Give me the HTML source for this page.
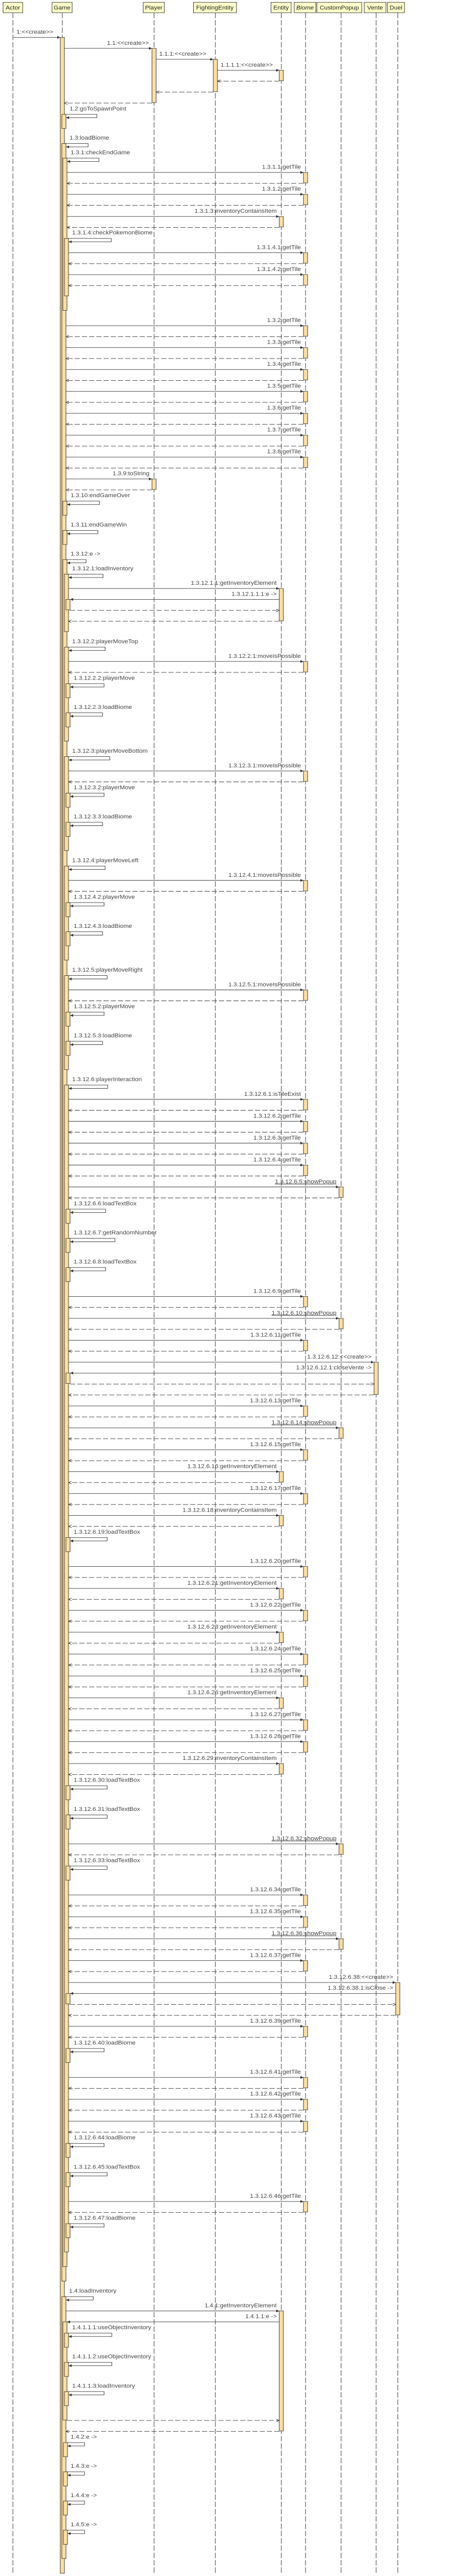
<!DOCTYPE html>
<html><head><meta charset="utf-8"><style>
html,body{margin:0;padding:0;background:#fff;width:100%;height:100%;overflow:hidden}
svg{display:block;position:fixed;left:0;top:0;width:100vw;height:100vh}
text{font-family:"Liberation Sans",sans-serif;font-size:12px;fill:#444}
.h{font-size:12px;fill:#222;text-anchor:middle}
.a{fill:#ffdf9f;stroke:#333;stroke-width:1}
line,path{stroke:#333;stroke-width:1;fill:none}
.d{stroke-dasharray:10,4}
.ll{stroke-dasharray:12,4}
.r{text-anchor:end}
.u{text-decoration:underline}
.bx{fill:#ffffc8;stroke:#333}
</style></head><body>
<svg viewBox="0 0 885 5647" preserveAspectRatio="none" xmlns="http://www.w3.org/2000/svg">
<defs>
<marker id="f" markerWidth="7" markerHeight="7" refX="6" refY="3" orient="auto" markerUnits="userSpaceOnUse"><path d="M0,0L6,3L0,6z" style="fill:#333;stroke:none"/></marker>
<marker id="o" markerWidth="7" markerHeight="7" refX="6" refY="3" orient="auto" markerUnits="userSpaceOnUse"><path d="M0,0L6,3L0,6" style="fill:none;stroke:#333"/></marker>
<g id="B1"><line x1="128" y1="0" x2="589" y2="0" marker-end="url(#f)"/><rect class="a" x="589" y="0" width="8" height="23"/><line class="d" x1="589" y1="24" x2="128" y2="24" marker-end="url(#o)"/></g>
<g id="B2"><line x1="130" y1="0" x2="589" y2="0" marker-end="url(#f)"/><rect class="a" x="589" y="0" width="8" height="23"/><line class="d" x1="589" y1="24" x2="130" y2="24" marker-end="url(#o)"/></g>
<g id="B3"><line x1="133" y1="0" x2="589" y2="0" marker-end="url(#f)"/><rect class="a" x="589" y="0" width="8" height="23"/><line class="d" x1="589" y1="24" x2="133" y2="24" marker-end="url(#o)"/></g>
<g id="E2"><line x1="130" y1="0" x2="542" y2="0" marker-end="url(#f)"/><rect class="a" x="542" y="0" width="8" height="23"/><line class="d" x1="542" y1="24" x2="130" y2="24" marker-end="url(#o)"/></g>
<g id="E3"><line x1="133" y1="0" x2="542" y2="0" marker-end="url(#f)"/><rect class="a" x="542" y="0" width="8" height="23"/><line class="d" x1="542" y1="24" x2="133" y2="24" marker-end="url(#o)"/></g>
<g id="C3"><line x1="133" y1="0" x2="658" y2="0" marker-end="url(#f)"/><rect class="a" x="658" y="0" width="8" height="23"/><line class="d" x1="658" y1="24" x2="133" y2="24" marker-end="url(#o)"/></g>
<g id="P1"><line x1="128" y1="0" x2="295" y2="0" marker-end="url(#f)"/><rect class="a" x="295" y="0" width="8" height="23"/><line class="d" x1="295" y1="24" x2="128" y2="24" marker-end="url(#o)"/></g>
</defs>

<line class="ll" x1="25" y1="28" x2="25" y2="5640"/>
<line class="ll" x1="121" y1="28" x2="121" y2="5640"/>
<line class="ll" x1="299" y1="28" x2="299" y2="5640"/>
<line class="ll" x1="418" y1="28" x2="418" y2="5640"/>
<line class="ll" x1="546" y1="28" x2="546" y2="5640"/>
<line class="ll" x1="593" y1="28" x2="593" y2="5640"/>
<line class="ll" x1="662" y1="28" x2="662" y2="5640"/>
<line class="ll" x1="730" y1="28" x2="730" y2="5640"/>
<line class="ll" x1="772" y1="28" x2="772" y2="5640"/>

<rect class="bx" x="6" y="5" width="38" height="23"/><text class="h" x="25" y="21">Actor</text>
<rect class="bx" x="101" y="5" width="39" height="23"/><text class="h" x="120.5" y="21">Game</text>
<rect class="bx" x="278" y="5" width="41" height="23"/><text class="h" x="298.5" y="21">Player</text>
<rect class="bx" x="375.5" y="5" width="83.5" height="23"/><text class="h" x="417" y="21">FightingEntity</text>
<rect class="bx" x="526" y="5" width="39" height="23"/><text class="h" x="545.5" y="21">Entity</text>
<rect class="bx" x="571" y="5" width="42" height="23"/><text class="h" x="592" y="21" font-style="italic">Biome</text>
<rect class="bx" x="615" y="5" width="87" height="23"/><text class="h" x="658.5" y="21">CustomPopup</text>
<rect class="bx" x="707" y="5" width="42" height="23"/><text class="h" x="728" y="21">Vente</text>
<rect class="bx" x="752" y="5" width="33" height="23"/><text class="h" x="768.5" y="21">Duel</text>

<rect class="a" x="117" y="82" width="8" height="5559"/>
<rect class="a" x="295" y="106" width="8" height="119"/>
<rect class="a" x="414" y="130" width="8" height="71"/>
<rect class="a" x="542" y="154" width="8" height="23"/>

<line x1="26" y1="82" x2="117" y2="82" marker-end="url(#f)"/><text x="32" y="74">1:&lt;&lt;create&gt;&gt;</text>
<line x1="125" y1="106" x2="295" y2="106" marker-end="url(#f)"/><text class="r" x="289" y="98">1.1:&lt;&lt;create&gt;&gt;</text>
<line x1="303" y1="130" x2="414" y2="130" marker-end="url(#f)"/><text x="309" y="122">1.1.1:&lt;&lt;create&gt;&gt;</text>
<line x1="422" y1="154" x2="542" y2="154" marker-end="url(#f)"/><text x="428" y="146">1.1.1.1:&lt;&lt;create&gt;&gt;</text>
<line class="d" x1="542" y1="178" x2="422" y2="178" marker-end="url(#o)"/>
<line class="d" x1="414" y1="202" x2="303" y2="202" marker-end="url(#o)"/>
<line class="d" x1="295" y1="226" x2="125" y2="226" marker-end="url(#o)"/>

<g transform="translate(0,238)"><rect class="a" x="120" y="12.6" width="8" height="31"/><path d="M125,12.6H188V20H128" marker-end="url(#f)"/><text x="135" y="4">1.2:goToSpawnPoint</text></g>
<g transform="translate(0,302)"><rect class="a" x="120" y="12.6" width="8" height="4686"/><path d="M125,12.6H171V20H128" marker-end="url(#f)"/><text x="135" y="4">1.3:loadBiome</text></g>
<g transform="translate(0,334)"><rect class="a" x="122" y="12.6" width="8" height="334"/><path d="M128,12.6H192V20H130" marker-end="url(#f)"/><text x="137" y="4">1.3.1:checkEndGame</text></g>
<use href="#B2" y="378"/><text class="r" x="584" y="370">1.3.1.1:getTile</text>
<use href="#B2" y="426"/><text class="r" x="584" y="418">1.3.1.2:getTile</text>
<use href="#E2" y="474.6"/><text class="r" x="537" y="466.6">1.3.1.3:inventoryContainsItem</text>
<g transform="translate(0,510)"><rect class="a" x="125" y="12.6" width="8" height="126"/><path d="M130,12.6H216V20H133" marker-end="url(#f)"/><text x="140" y="4">1.3.1.4:checkPokemonBiome</text></g>
<use href="#B3" y="554"/><text class="r" x="584" y="546">1.3.1.4.1:getTile</text>
<use href="#B3" y="602"/><text class="r" x="584" y="594">1.3.1.4.2:getTile</text>

<use href="#B1" y="714"/><text class="r" x="584" y="706">1.3.2:getTile</text>
<use href="#B1" y="762"/><text class="r" x="584" y="754">1.3.3:getTile</text>
<use href="#B1" y="810"/><text class="r" x="584" y="802">1.3.4:getTile</text>
<use href="#B1" y="858"/><text class="r" x="584" y="850">1.3.5:getTile</text>
<use href="#B1" y="906"/><text class="r" x="584" y="898">1.3.6:getTile</text>
<use href="#B1" y="954"/><text class="r" x="584" y="946">1.3.7:getTile</text>
<use href="#B1" y="1002"/><text class="r" x="584" y="994">1.3.8:getTile</text>
<use href="#P1" y="1050"/><text class="r" x="290" y="1042">1.3.9:toString</text>

<g transform="translate(0,1086)"><rect class="a" x="122" y="12.6" width="8" height="31"/><path d="M128,12.6H193V20H130" marker-end="url(#f)"/><text x="137" y="4">1.3.10:endGameOver</text></g>
<g transform="translate(0,1150)"><rect class="a" x="122" y="12.6" width="8" height="31"/><path d="M128,12.6H190V20H130" marker-end="url(#f)"/><text x="137" y="4">1.3.11:endGameWin</text></g>
<g transform="translate(0,1214)"><rect class="a" x="122" y="12.6" width="8" height="3742"/><path d="M128,12.6H167V20H130" marker-end="url(#f)"/><text x="137" y="4">1.3.12:e -&gt;</text></g>

<g transform="translate(0,1246)"><rect class="a" x="125" y="12.6" width="8" height="126"/><path d="M130,12.6H200V20H133" marker-end="url(#f)"/><text x="140" y="4">1.3.12.1:loadInventory</text></g>
<rect class="a" x="542" y="1290" width="8" height="71"/>
<line x1="133" y1="1290" x2="542" y2="1290" marker-end="url(#f)"/><text class="r" x="537" y="1282">1.3.12.1.1:getInventoryElement</text>
<rect class="a" x="128" y="1314" width="8" height="23"/>
<line x1="542" y1="1314" x2="136" y2="1314" marker-end="url(#f)"/><text class="r" x="537" y="1306">1.3.12.1.1.1:e -&gt;</text>
<line class="d" x1="136" y1="1338" x2="542" y2="1338" marker-end="url(#o)"/>
<line class="d" x1="542" y1="1362" x2="133" y2="1362" marker-end="url(#o)"/>

<g transform="translate(0,1406)"><rect class="a" x="125" y="12.6" width="8" height="206"/><path d="M130,12.6H204V20H133" marker-end="url(#f)"/><text x="140" y="4">1.3.12.2:playerMoveTop</text></g>
<use href="#B3" y="1450"/><text class="r" x="584" y="1442">1.3.12.2.1:moveIsPossible</text>
<g transform="translate(0,1486)"><rect class="a" x="128" y="12.6" width="8" height="31"/><path d="M133,12.6H202V20H136" marker-end="url(#f)"/><text x="143" y="4">1.3.12.2.2:playerMove</text></g>
<g transform="translate(0,1550)"><rect class="a" x="128" y="12.6" width="8" height="31"/><path d="M133,12.6H199V20H136" marker-end="url(#f)"/><text x="143" y="4">1.3.12.2.3:loadBiome</text></g>

<g transform="translate(0,1646)"><rect class="a" x="125" y="12.6" width="8" height="206"/><path d="M130,12.6H213V20H133" marker-end="url(#f)"/><text x="140" y="4">1.3.12.3:playerMoveBottom</text></g>
<use href="#B3" y="1690"/><text class="r" x="584" y="1682">1.3.12.3.1:moveIsPossible</text>
<g transform="translate(0,1726)"><rect class="a" x="128" y="12.6" width="8" height="31"/><path d="M133,12.6H202V20H136" marker-end="url(#f)"/><text x="143" y="4">1.3.12.3.2:playerMove</text></g>
<g transform="translate(0,1790)"><rect class="a" x="128" y="12.6" width="8" height="31"/><path d="M133,12.6H199V20H136" marker-end="url(#f)"/><text x="143" y="4">1.3.12.3.3:loadBiome</text></g>

<g transform="translate(0,1886)"><rect class="a" x="125" y="12.6" width="8" height="206"/><path d="M130,12.6H204V20H133" marker-end="url(#f)"/><text x="140" y="4">1.3.12.4:playerMoveLeft</text></g>
<use href="#B3" y="1930"/><text class="r" x="584" y="1922">1.3.12.4.1:moveIsPossible</text>
<g transform="translate(0,1966)"><rect class="a" x="128" y="12.6" width="8" height="31"/><path d="M133,12.6H202V20H136" marker-end="url(#f)"/><text x="143" y="4">1.3.12.4.2:playerMove</text></g>
<g transform="translate(0,2030)"><rect class="a" x="128" y="12.6" width="8" height="31"/><path d="M133,12.6H199V20H136" marker-end="url(#f)"/><text x="143" y="4">1.3.12.4.3:loadBiome</text></g>

<g transform="translate(0,2126)"><rect class="a" x="125" y="12.6" width="8" height="206"/><path d="M130,12.6H208V20H133" marker-end="url(#f)"/><text x="140" y="4">1.3.12.5:playerMoveRight</text></g>
<use href="#B3" y="2170"/><text class="r" x="584" y="2162">1.3.12.5.1:moveIsPossible</text>
<g transform="translate(0,2206)"><rect class="a" x="128" y="12.6" width="8" height="31"/><path d="M133,12.6H202V20H136" marker-end="url(#f)"/><text x="143" y="4">1.3.12.5.2:playerMove</text></g>
<g transform="translate(0,2270)"><rect class="a" x="128" y="12.6" width="8" height="31"/><path d="M133,12.6H199V20H136" marker-end="url(#f)"/><text x="143" y="4">1.3.12.5.3:loadBiome</text></g>

<g transform="translate(0,2366)"><rect class="a" x="125" y="12.6" width="8" height="2558"/><path d="M130,12.6H209V20H133" marker-end="url(#f)"/><text x="140" y="4">1.3.12.6:playerInteraction</text></g>
<use href="#B3" y="2410"/><text class="r" x="584" y="2402">1.3.12.6.1:isTileExist</text>
<use href="#B3" y="2458"/><text class="r" x="584" y="2450">1.3.12.6.2:getTile</text>
<use href="#B3" y="2506"/><text class="r" x="584" y="2498">1.3.12.6.3:getTile</text>
<use href="#B3" y="2554"/><text class="r" x="584" y="2546">1.3.12.6.4:getTile</text>
<use href="#C3" y="2602"/><text class="r u" x="653" y="2594">1.3.12.6.5:showPopup</text>
<g transform="translate(0,2638)"><rect class="a" x="128" y="12.6" width="8" height="31"/><path d="M133,12.6H205V20H136" marker-end="url(#f)"/><text x="143" y="4">1.3.12.6.6:loadTextBox</text></g>
<g transform="translate(0,2702)"><rect class="a" x="128" y="12.6" width="8" height="31"/><path d="M133,12.6H223V20H136" marker-end="url(#f)"/><text x="143" y="4">1.3.12.6.7:getRandomNumber</text></g>
<g transform="translate(0,2766)"><rect class="a" x="128" y="12.6" width="8" height="31"/><path d="M133,12.6H205V20H136" marker-end="url(#f)"/><text x="143" y="4">1.3.12.6.8:loadTextBox</text></g>
<use href="#B3" y="2842"/><text class="r" x="584" y="2834">1.3.12.6.9:getTile</text>
<use href="#C3" y="2890"/><text class="r u" x="653" y="2882">1.3.12.6.10:showPopup</text>
<use href="#B3" y="2938"/><text class="r" x="584" y="2930">1.3.12.6.11:getTile</text>
<rect class="a" x="726" y="2986" width="8" height="71"/>
<line x1="133" y1="2986" x2="726" y2="2986" marker-end="url(#f)"/><text class="r" x="721" y="2978">1.3.12.6.12:&lt;&lt;create&gt;&gt;</text>
<rect class="a" x="128" y="3010" width="8" height="23"/>
<line x1="726" y1="3010" x2="136" y2="3010" marker-end="url(#f)"/><text class="r" x="721" y="3002">1.3.12.6.12.1:closeVente -&gt;</text>
<line class="d" x1="136" y1="3034" x2="726" y2="3034" marker-end="url(#o)"/>
<line class="d" x1="726" y1="3058" x2="133" y2="3058" marker-end="url(#o)"/>
<use href="#B3" y="3082"/><text class="r" x="584" y="3074">1.3.12.6.13:getTile</text>
<use href="#C3" y="3130"/><text class="r u" x="653" y="3122">1.3.12.6.14:showPopup</text>
<use href="#B3" y="3178"/><text class="r" x="584" y="3170">1.3.12.6.15:getTile</text>
<use href="#E3" y="3226"/><text class="r" x="537" y="3218">1.3.12.6.16:getInventoryElement</text>
<use href="#B3" y="3274"/><text class="r" x="584" y="3266">1.3.12.6.17:getTile</text>
<use href="#E3" y="3322"/><text class="r" x="537" y="3314">1.3.12.6.18:inventoryContainsItem</text>
<g transform="translate(0,3358)"><rect class="a" x="128" y="12.6" width="8" height="31"/><path d="M133,12.6H208V20H136" marker-end="url(#f)"/><text x="143" y="4">1.3.12.6.19:loadTextBox</text></g>
<use href="#B3" y="3434"/><text class="r" x="584" y="3426">1.3.12.6.20:getTile</text>
<use href="#E3" y="3482"/><text class="r" x="537" y="3474">1.3.12.6.21:getInventoryElement</text>
<use href="#B3" y="3530"/><text class="r" x="584" y="3522">1.3.12.6.22:getTile</text>
<use href="#E3" y="3578"/><text class="r" x="537" y="3570">1.3.12.6.23:getInventoryElement</text>
<use href="#B3" y="3626"/><text class="r" x="584" y="3618">1.3.12.6.24:getTile</text>
<use href="#B3" y="3674"/><text class="r" x="584" y="3666">1.3.12.6.25:getTile</text>
<use href="#E3" y="3722"/><text class="r" x="537" y="3714">1.3.12.6.26:getInventoryElement</text>
<use href="#B3" y="3770"/><text class="r" x="584" y="3762">1.3.12.6.27:getTile</text>
<use href="#B3" y="3818"/><text class="r" x="584" y="3810">1.3.12.6.28:getTile</text>
<use href="#E3" y="3866"/><text class="r" x="537" y="3858">1.3.12.6.29:inventoryContainsItem</text>
<g transform="translate(0,3902)"><rect class="a" x="128" y="12.6" width="8" height="31"/><path d="M133,12.6H208V20H136" marker-end="url(#f)"/><text x="143" y="4">1.3.12.6.30:loadTextBox</text></g>
<g transform="translate(0,3966)"><rect class="a" x="128" y="12.6" width="8" height="31"/><path d="M133,12.6H208V20H136" marker-end="url(#f)"/><text x="143" y="4">1.3.12.6.31:loadTextBox</text></g>
<use href="#C3" y="4042"/><text class="r u" x="653" y="4034">1.3.12.6.32:showPopup</text>
<g transform="translate(0,4078)"><rect class="a" x="128" y="12.6" width="8" height="31"/><path d="M133,12.6H208V20H136" marker-end="url(#f)"/><text x="143" y="4">1.3.12.6.33:loadTextBox</text></g>
<use href="#B3" y="4154"/><text class="r" x="584" y="4146">1.3.12.6.34:getTile</text>
<use href="#B3" y="4202"/><text class="r" x="584" y="4194">1.3.12.6.35:getTile</text>
<use href="#C3" y="4250"/><text class="r u" x="653" y="4242">1.3.12.6.36:showPopup</text>
<use href="#B3" y="4298"/><text class="r" x="584" y="4290">1.3.12.6.37:getTile</text>
<rect class="a" x="768" y="4346" width="8" height="71"/>
<line x1="133" y1="4346" x2="768" y2="4346" marker-end="url(#f)"/><text class="r" x="763" y="4338">1.3.12.6.38:&lt;&lt;create&gt;&gt;</text>
<rect class="a" x="128" y="4370" width="8" height="23"/>
<line x1="768" y1="4370" x2="136" y2="4370" marker-end="url(#f)"/><text class="r" x="763" y="4362">1.3.12.6.38.1:isClose -&gt;</text>
<line class="d" x1="136" y1="4394" x2="768" y2="4394" marker-end="url(#o)"/>
<line class="d" x1="768" y1="4418" x2="133" y2="4418" marker-end="url(#o)"/>
<use href="#B3" y="4442"/><text class="r" x="584" y="4434">1.3.12.6.39:getTile</text>
<g transform="translate(0,4478)"><rect class="a" x="128" y="12.6" width="8" height="31"/><path d="M133,12.6H202V20H136" marker-end="url(#f)"/><text x="143" y="4">1.3.12.6.40:loadBiome</text></g>
<use href="#B3" y="4554"/><text class="r" x="584" y="4546">1.3.12.6.41:getTile</text>
<use href="#B3" y="4602"/><text class="r" x="584" y="4594">1.3.12.6.42:getTile</text>
<use href="#B3" y="4650"/><text class="r" x="584" y="4642">1.3.12.6.43:getTile</text>
<g transform="translate(0,4686)"><rect class="a" x="128" y="12.6" width="8" height="31"/><path d="M133,12.6H202V20H136" marker-end="url(#f)"/><text x="143" y="4">1.3.12.6.44:loadBiome</text></g>
<g transform="translate(0,4750)"><rect class="a" x="128" y="12.6" width="8" height="31"/><path d="M133,12.6H208V20H136" marker-end="url(#f)"/><text x="143" y="4">1.3.12.6.45:loadTextBox</text></g>
<use href="#B3" y="4826"/><text class="r" x="584" y="4818">1.3.12.6.46:getTile</text>
<g transform="translate(0,4862)"><rect class="a" x="128" y="12.6" width="8" height="31"/><path d="M133,12.6H202V20H136" marker-end="url(#f)"/><text x="143" y="4">1.3.12.6.47:loadBiome</text></g>

<g transform="translate(0,5022)"><rect class="a" x="120" y="12.6" width="8" height="574"/><path d="M125,12.6H181V20H128" marker-end="url(#f)"/><text x="134" y="4">1.4:loadInventory</text></g>
<rect class="a" x="542" y="5066" width="8" height="263"/>
<line x1="128" y1="5066" x2="542" y2="5066" marker-end="url(#f)"/><text class="r" x="537" y="5058">1.4.1:getInventoryElement</text>
<rect class="a" x="122" y="5090" width="8" height="215"/>
<line x1="542" y1="5090" x2="130" y2="5090" marker-end="url(#f)"/><text class="r" x="537" y="5082">1.4.1.1:e -&gt;</text>
<g transform="translate(0,5102)"><rect class="a" x="125" y="12.6" width="8" height="31"/><path d="M130,12.6H217V20H133" marker-end="url(#f)"/><text x="140" y="4">1.4.1.1.1:useObjectInventory</text></g>
<g transform="translate(0,5166)"><rect class="a" x="125" y="12.6" width="8" height="31"/><path d="M130,12.6H217V20H133" marker-end="url(#f)"/><text x="140" y="4">1.4.1.1.2:useObjectInventory</text></g>
<g transform="translate(0,5230)"><rect class="a" x="125" y="12.6" width="8" height="31"/><path d="M130,12.6H202V20H133" marker-end="url(#f)"/><text x="140" y="4">1.4.1.1.3:loadInventory</text></g>
<line class="d" x1="130" y1="5306" x2="542" y2="5306" marker-end="url(#o)"/>
<line class="d" x1="542" y1="5330" x2="128" y2="5330" marker-end="url(#o)"/>
<g transform="translate(0,5342)"><rect class="a" x="123" y="12.6" width="8" height="31"/><path d="M128,12.6H164V20H131" marker-end="url(#f)"/><text x="137" y="4">1.4.2:e -&gt;</text></g>
<g transform="translate(0,5406)"><rect class="a" x="123" y="12.6" width="8" height="31"/><path d="M128,12.6H164V20H131" marker-end="url(#f)"/><text x="137" y="4">1.4.3:e -&gt;</text></g>
<g transform="translate(0,5470)"><rect class="a" x="123" y="12.6" width="8" height="31"/><path d="M128,12.6H164V20H131" marker-end="url(#f)"/><text x="137" y="4">1.4.4:e -&gt;</text></g>
<g transform="translate(0,5534)"><rect class="a" x="123" y="12.6" width="8" height="31"/><path d="M128,12.6H164V20H131" marker-end="url(#f)"/><text x="137" y="4">1.4.5:e -&gt;</text></g>
</svg>
</body></html>
